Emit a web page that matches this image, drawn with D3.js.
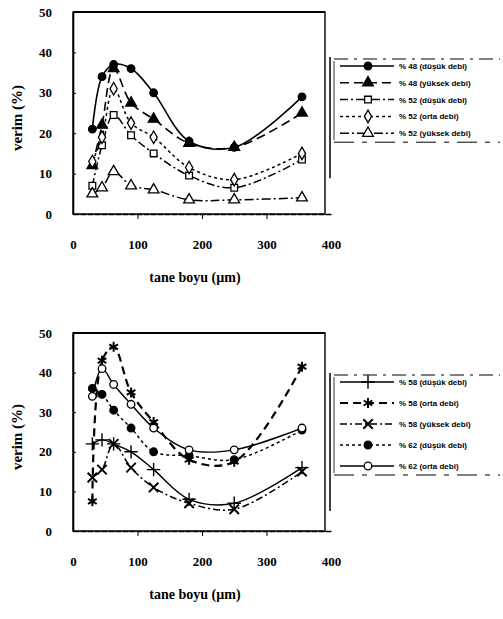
<!DOCTYPE html>
<html>
<head>
<meta charset="utf-8">
<script src="https://cdn.jsdelivr.net/npm/d3@7"></script>
<style>
  body { margin: 0; background: #fff; }
  svg { display: block; }
  text { font-family: "Liberation Serif", "DejaVu Serif", serif; font-weight: bold; fill: #000; }
</style>
</head>
<body>
<svg id="chart" width="503" height="619"></svg>
<script>
// sieve sizes (um) shared by both panels
const sizes = [30, 45, 63, 90, 125, 180, 250, 355];
const xTicks = [0, 100, 200, 300, 400];
const yTicks = [0, 10, 20, 30, 40, 50];

// top panel
const topNames = ["% 48 (düşük debi)", "% 48 (yüksek debi)", "% 52 (düşük debi)", "% 52 (orta debi)", "% 52 (yüksek debi)"];
const top48Dusuk  = [21, 34, 37, 36, 30, 18, 16.5, 29];
const top48Yuksek = [12, 22, 36, 27.5, 23.5, 17.5, 16.5, 25];
const top52Dusuk  = [7, 17, 24.5, 19.5, 15, 9.5, 6.5, 13.5];
const top52Orta   = [13, 19, 31, 22.5, 19, 11.5, 8.5, 15];
const top52Yuksek = [5, 6.5, 10.5, 7, 6, 3.5, 3.5, 4];

// bottom panel
const botNames = ["% 58 (düşük debi)", "% 58 (orta debi)", "% 58 (yüksek debi)", "% 62 (düşük debi)", "% 62 (orta debi)"];
const bot58Dusuk  = [22, 23, 22, 20, 15.5, 8, 7, 16];
const bot58Orta   = [7.5, 43, 46.5, 35, 27.5, 18, 17.5, 41.5];
const bot58Yuksek = [13.5, 15.5, 22, 16, 11, 7, 5.5, 15];
const bot62Dusuk  = [36, 34.5, 30.5, 26, 20, 19, 18, 25.5];
const bot62Orta   = [34, 41, 37, 32, 26, 20.5, 20.5, 26];

const svg = d3.select("#chart");

// line + marker styles per series
const topStyles = [
  { dash: null,        width: 1.6, sym: d3.symbolCircle,   size: 45, fill: "#000" },
  { dash: "9,5",       width: 1.6, sym: d3.symbolTriangle, size: 50, fill: "#000" },
  { dash: "8,3,2,3",   width: 1.5, sym: d3.symbolSquare,   size: 45, fill: "#fff" },
  { dash: "3,3",       width: 1.5, sym: d3.symbolDiamond,  size: 45, fill: "#fff" },
  { dash: "9,3,2,3",   width: 1.5, sym: d3.symbolTriangle, size: 50, fill: "#fff" }
];
const botStyles = [
  { dash: null,        width: 1.4, sym: d3.symbolPlus,     size: 60, fill: "none", stroke: 1.4 },
  { dash: "8,5",       width: 2.2, sym: d3.symbolAsterisk, size: 70, fill: "none", stroke: 2 },
  { dash: "7,3,2,3",   width: 1.5, sym: d3.symbolTimes,    size: 60, fill: "none", stroke: 2 },
  { dash: "3,3",       width: 1.5, sym: d3.symbolCircle,   size: 45, fill: "#000" },
  { dash: null,        width: 1.4, sym: d3.symbolCircle,   size: 45, fill: "#fff" }
];

function drawPanel(cfg) {
  const x = d3.scaleLinear().domain([0, 400]).range([73, 331]);
  const y = d3.scaleLinear().domain([0, 50]).range([cfg.bottom, cfg.top]);
  const g = svg.append("g");

  // frame
  g.append("rect")
    .attr("x", x(0)).attr("y", y(50))
    .attr("width", 325 - x(0)).attr("height", y(0) - y(50))
    .attr("fill", "none").attr("stroke", "#000").attr("stroke-width", 1.4);
  g.append("line")
    .attr("x1", x(0)).attr("x2", 325).attr("y1", y(50)).attr("y2", y(50))
    .attr("stroke", "#000").attr("stroke-width", 2.2);

  const yAxis = g.append("g")
    .attr("transform", `translate(${x(0)},0)`)
    .call(d3.axisLeft(y).tickValues(yTicks).tickSizeInner(-3).tickSizeOuter(0).tickPadding(21));
  yAxis.select(".domain").attr("stroke-width", 1.6);
  yAxis.selectAll("text").style("font-size", "13px").style("font-family", "Liberation Serif").style("font-weight", "bold");

  const xAxis = g.append("g")
    .attr("transform", `translate(0,${y(0)})`)
    .call(d3.axisBottom(x).tickValues(xTicks).tickSizeInner(5).tickSizeOuter(0).tickPadding(21));
  xAxis.select(".domain").attr("stroke-width", 1.6).attr("stroke-dasharray", "6,1");
  xAxis.selectAll(".tick line").filter(d => d === 0 || d === 400).remove();
  xAxis.selectAll("text").style("font-size", "13px").style("font-family", "Liberation Serif").style("font-weight", "bold");

  // axis titles
  g.append("text")
    .attr("transform", `translate(22,${(y(0) + y(50)) / 2 + 5}) rotate(-90)`)
    .attr("text-anchor", "middle")
    .style("font-size", "15px")
    .text("verim (%)");
  g.append("text")
    .attr("x", 195).attr("y", y(0) + 68)
    .attr("text-anchor", "middle")
    .style("font-size", "14px")
    .text("tane boyu (\u00b5m)");

  const line = d3.line()
    .x((d, i) => x(sizes[i]))
    .y(d => y(d))
    .curve(d3.curveCatmullRom.alpha(0.5));

  cfg.series.forEach((vals, i) => {
    const st = cfg.styles[i];
    g.append("path")
      .datum(vals)
      .attr("d", line)
      .attr("fill", "none")
      .attr("stroke", "#000")
      .attr("stroke-width", st.width)
      .attr("stroke-dasharray", st.dash);
    g.selectAll(null)
      .data(vals)
      .enter().append("path")
      .attr("transform", (d, j) => `translate(${x(sizes[j])},${y(d)})`)
      .attr("d", d3.symbol().type(st.sym).size(st.size))
      .attr("fill", st.fill)
      .attr("stroke", "#000")
      .attr("stroke-width", st.stroke || 1.3);
  });

  // legend
  const lg = g.append("g");
  const lgBottom = cfg.legendTop + 9 + 4 * cfg.legendStep + 9;
  lg.append("line")
    .attr("x1", 330).attr("x2", 330).attr("y1", cfg.legendTop).attr("y2", lgBottom + 36)
    .attr("stroke", "#000").attr("stroke-width", 1.5);
  lg.append("line")
    .attr("x1", 334).attr("x2", 500).attr("y1", cfg.legendTop + 2).attr("y2", cfg.legendTop + 2)
    .attr("stroke", "#000").attr("stroke-width", 1).attr("stroke-dasharray", "14,6,3,6");
  lg.append("line")
    .attr("x1", 334).attr("x2", 500).attr("y1", lgBottom).attr("y2", lgBottom)
    .attr("stroke", "#000").attr("stroke-width", 1).attr("stroke-dasharray", "20,8,5,8");
  lg.append("line")
    .attr("x1", 334).attr("x2", 334).attr("y1", cfg.legendTop + 4).attr("y2", lgBottom - 2)
    .attr("stroke", "#000").attr("stroke-width", 0.8);

  cfg.names.forEach((name, i) => {
    const st = cfg.styles[i];
    const ly = cfg.legendTop + 9 + i * cfg.legendStep;
    lg.append("line")
      .attr("x1", 340).attr("x2", 394).attr("y1", ly).attr("y2", ly)
      .attr("stroke", "#000").attr("stroke-width", st.width)
      .attr("stroke-dasharray", st.dash);
    lg.append("path")
      .attr("transform", `translate(368,${ly})`)
      .attr("d", d3.symbol().type(st.sym).size(st.size))
      .attr("fill", st.fill)
      .attr("stroke", "#000")
      .attr("stroke-width", st.stroke || 1.3);
    lg.append("text")
      .attr("x", 399).attr("y", ly + 3)
      .style("font-size", "8px")
      .style("font-family", "Liberation Sans")
      .text(name);
  });
}

drawPanel({
  top: 12, bottom: 214,
  series: [top48Dusuk, top48Yuksek, top52Dusuk, top52Orta, top52Yuksek],
  names: topNames, styles: topStyles,
  legendTop: 57, legendStep: 16.8
});

drawPanel({
  top: 333, bottom: 531,
  series: [bot58Dusuk, bot58Orta, bot58Yuksek, bot62Dusuk, bot62Orta],
  names: botNames, styles: botStyles,
  legendTop: 373, legendStep: 21
});
</script>
</body>
</html>
